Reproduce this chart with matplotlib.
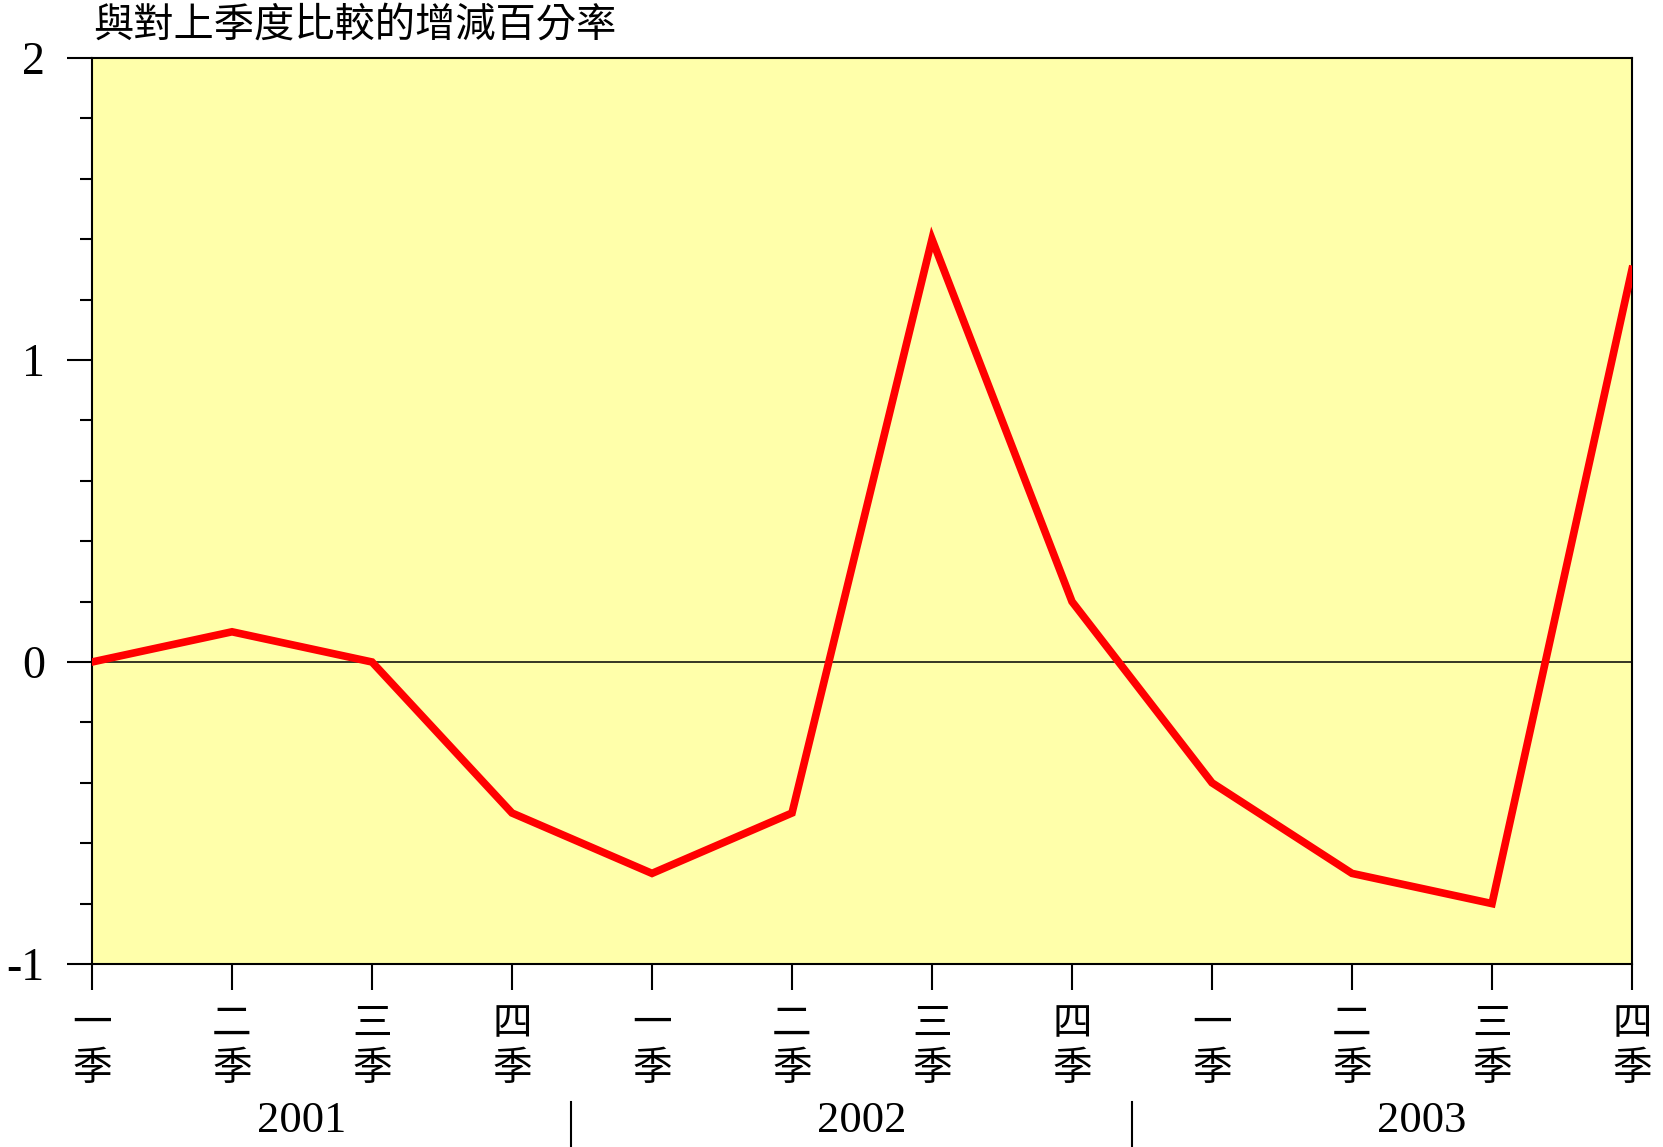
import matplotlib
matplotlib.use("Agg")
import matplotlib.pyplot as plt
from matplotlib.ticker import MultipleLocator
from matplotlib.transforms import blended_transform_factory
import numpy as np

# quarter-on-quarter change, 2001 Q1 .. 2003 Q4
quarters = ["一\n季", "二\n季", "三\n季", "四\n季"] * 3
values = [0.0, 0.1, 0.0, -0.5, -0.7, -0.5, 1.4, 0.2, -0.4, -0.7, -0.8, 1.3]
years = ["2001", "2002", "2003"]
year_centers = [1.5, 5.5, 9.5]
year_breaks = [3.42, 7.43]

cjk = ["Noto Sans CJK TC", "DejaVu Sans"]
serif = ["Liberation Serif", "DejaVu Serif"]

fig = plt.figure(figsize=(16.63, 11.47), dpi=100)
ax = fig.add_axes([92 / 1663, 1 - 964 / 1147, (1632 - 92) / 1663, (964 - 58) / 1147])
ax.set_facecolor("#FFFFAA")

x = np.arange(len(values))
ax.plot(x, values, color="#FF0000", lw=5.5, solid_joinstyle="miter", zorder=3)
ax.axhline(0, color="black", lw=1.1, zorder=2)

ax.set_xlim(0, 11)
ax.set_ylim(-1, 2)

for s in ax.spines.values():
    s.set_linewidth(1.5)

ax.yaxis.set_major_locator(MultipleLocator(1))
ax.yaxis.set_minor_locator(MultipleLocator(0.2))
ax.tick_params(axis="y", which="major", length=18, width=1.5, pad=16)
ax.tick_params(axis="y", which="minor", length=9, width=1.5)
ax.set_yticks([-1, 0, 1, 2])
ax.set_yticklabels(["-1", "0", "1", "2"], family=serif, fontsize=33)

ax.set_xticks(x)
ax.set_xticklabels(quarters, family=cjk, fontsize=28.5, linespacing=1.15)
ax.tick_params(axis="x", which="major", length=19, width=1.5, pad=10)

tr = blended_transform_factory(ax.transData, fig.transFigure)
for yr, xc in zip(years, year_centers):
    ax.text(xc, 1 - 1121 / 1147, yr, transform=tr, ha="center", va="center",
            family=serif, fontsize=32, clip_on=False)
for xb in year_breaks:
    ax.plot([xb, xb], [1 - 1102 / 1147, 0], transform=tr, color="black",
            lw=1.5, clip_on=False)

fig.text(93 / 1663, 1 - 25 / 1147, "與對上季度比較的增減百分率", ha="left", va="center",
         family=cjk, fontsize=29, fontweight="medium")

fig.savefig("out.png", dpi=100)
